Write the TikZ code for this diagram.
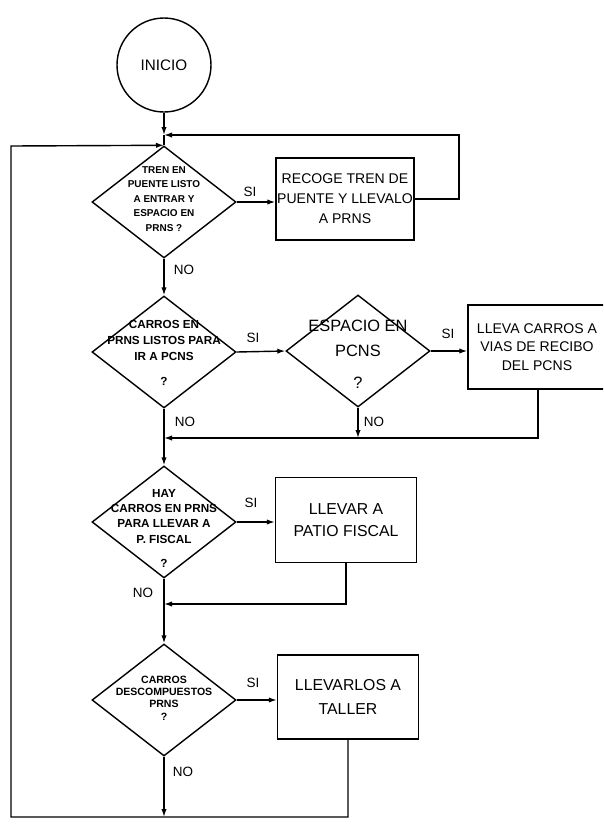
\documentclass[tikz,border=0pt]{standalone}
\usepackage{fontspec}
\setmainfont{Liberation Sans}
\usetikzlibrary{shapes.geometric,arrows.meta}

\tikzset{
  decision/.style={diamond, draw, line width=1.2pt, minimum width=4.32cm, minimum height=3.36cm, inner sep=0pt},
  process/.style={rectangle, draw, line width=1.2pt, align=center, inner sep=0pt},
  dtext/.style={font=\bfseries\fontsize{8.5}{12.3}\selectfont, align=center, inner sep=0pt},
  lbl/.style={font=\fontsize{11.5}{12}\selectfont, inner sep=0pt},
  flow/.style={line width=1.2pt, -{Latex[length=0.24cm,width=0.16cm]}},
  line/.style={line width=1.2pt}
}

\begin{document}
\begin{tikzpicture}[x=0.03cm, y=-0.03cm]
    \useasboundingbox (0,0) rectangle (603,829);
    \clip (0,0) rectangle (603,829);

    % Coordinates
    \coordinate (J) at (164,135);
    \coordinate (R1) at (459,135);
    \coordinate (R2) at (164,438);
    \coordinate (R3) at (164,604);
    \coordinate (B) at (164,817);
    \coordinate (L1) at (11,817);
    \coordinate (L2) at (11,146);

    % Start
    \node[circle, draw, line width=1.2pt, minimum size=2.82cm, font=\fontsize{13}{13}\selectfont] (inicio) at (164,65) {INICIO};

    % Decisions
    \node[decision] (tren) at (164,202) {};
    \node[decision] (carros) at (164,352) {};
    \node[decision] (espacio) at (358,351) {};
    \node[decision] (hay) at (164,522) {};
    \node[decision] (descomp) at (164,700) {};

    \node[dtext] at (164,199) {TREN EN\\PUENTE LISTO\\A ENTRAR Y\\ESPACIO EN\\PRNS ?};
    \node[dtext, font=\bfseries\fontsize{10}{13.6}\selectfont] at (164,353) {CARROS EN\\PRNS LISTOS PARA\\IR A PCNS\\[8pt]?};
    \node[dtext, font=\fontsize{14}{22}\selectfont] at (358,354) {ESPACIO EN\\PCNS\\[5pt]?};
    \node[dtext, font=\bfseries\fontsize{10}{13.2}\selectfont] at (164,528) {HAY\\CARROS EN PRNS\\PARA LLEVAR A\\P. FISCAL\\[7pt]?};
    \node[dtext, font=\bfseries\fontsize{9}{10.6}\selectfont] at (164,698) {CARROS\\DESCOMPUESTOS\\PRNS\\?};

    % Processes
    \node[process, minimum width=4.14cm, minimum height=2.46cm, font=\fontsize{12}{17}\selectfont] (recoge) at (345,199) {RECOGE TREN DE\\PUENTE Y LLEVALO\\A PRNS};
    \node[process, minimum width=4.98cm, minimum height=2.52cm,
          label={[align=center, font=\fontsize{12}{16}\selectfont, xshift=-0.42cm]center:LLEVA CARROS A\\VIAS DE RECIBO\\DEL PCNS}] (lleva) at (551,347) {};
    \node[process, minimum width=4.23cm, minimum height=2.55cm, font=\fontsize{13.5}{18.8}\selectfont] (patio) at (346,520) {LLEVAR A\\PATIO FISCAL};
    \node[process, minimum width=4.23cm, minimum height=2.52cm, font=\fontsize{13.5}{20.5}\selectfont] (taller) at (348,697) {LLEVARLOS A\\TALLER};

    % Labels
    \node[lbl] (si1) at (250,192) {SI};
    \node[lbl] (no1) at (184,270) {NO};
    \node[lbl] (si2) at (253,338) {SI};
    \node[lbl] (si3) at (448,334) {SI};
    \node[lbl] (no2) at (185,422) {NO};
    \node[lbl] (no3) at (374,422) {NO};
    \node[lbl] (si4) at (251,503) {SI};
    \node[lbl] (no4) at (143,593) {NO};
    \node[lbl] (si5) at (253,683) {SI};
    \node[lbl] (no5) at (183,772) {NO};

    % Main flow
    \draw[flow] (inicio) -- (J);
    \draw[line] (J) -- (tren.north);
    \draw[flow] (tren.south) -- (carros.north);
    \draw[flow] (carros.south) -- (hay.north);
    \draw[flow] (hay.south) -- (descomp.north);
    \draw[flow] (descomp.south) -- (B);

    % SI branches
    \draw[flow] (tren.east) -- (tren.east -| recoge.west);
    \draw[flow] (carros.east) -- (espacio.west);
    \draw[flow] (espacio.east) -- (espacio.east -| lleva.west);
    \draw[flow] (hay.east) -- (hay.east -| patio.west);
    \draw[flow] (descomp.east) -- (descomp.east -| taller.west);

    % Return loops
    \draw[flow] (recoge.east) -| (R1) -- (J);
    \draw[flow] (espacio.south) -- (espacio.south |- R2);
    \draw[flow] (lleva.south -| 538,0) |- (R2);
    \draw[flow] (patio.south) |- (R3);
    \draw[flow] (taller.south) |- (L1) -- (L2) -- (tren.north);
\end{tikzpicture}
\end{document}
